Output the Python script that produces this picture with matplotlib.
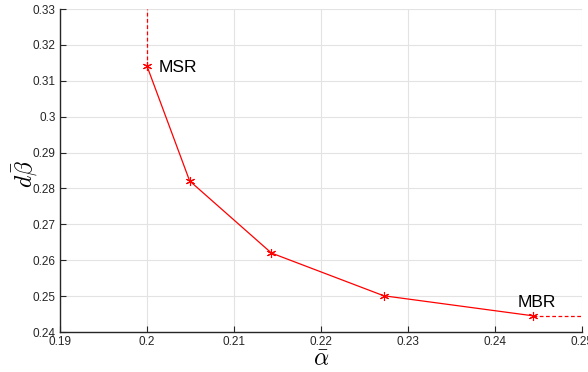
import numpy as np
import matplotlib.pyplot as plt

plt.rcParams["font.family"] = ["Liberation Sans", "DejaVu Sans"]
plt.rcParams["mathtext.fontset"] = "cm"

# trade-off curve points
alpha = [0.2, 0.2049, 0.2143, 0.2272, 0.2444]
dbeta = [0.3141, 0.2821, 0.2620, 0.2501, 0.2445]
xticks = [0.19, 0.2, 0.21, 0.22, 0.23, 0.24, 0.25]
yticks = [0.24, 0.25, 0.26, 0.27, 0.28, 0.29, 0.3, 0.31, 0.32, 0.33]

fig = plt.figure(figsize=(5.88, 3.72), dpi=100)
ax = fig.add_axes([0.102, 0.1075, 0.888, 0.8683])

star = (6, 2, 0)  # asterisk like matlab '*'
ax.plot(alpha, dbeta, color="red", lw=0.9, marker=star, ms=6.5, mew=0.8)
# dashed extensions towards the axis limits
ax.plot([alpha[0], alpha[0]], [dbeta[0], 0.33], color="red", ls=(0, (3, 2)), lw=0.9)
ax.plot([alpha[-1], 0.25], [dbeta[-1], dbeta[-1]], color="red", ls=(0, (3, 2)), lw=0.9)

ax.text(alpha[0] + 0.0013, dbeta[0] - 0.0003, "MSR", fontsize=12.5, va="center", ha="left")
ax.text(alpha[-1] + 0.0004, dbeta[-1] + 0.0015, "MBR", fontsize=12.5, va="bottom", ha="center")

ax.set_xlim(0.19, 0.25)
ax.set_ylim(0.24, 0.33)
ax.set_xticks(xticks)
ax.set_yticks(yticks)
ax.set_xticklabels([f"{v:g}" for v in xticks])
ax.set_yticklabels([f"{v:g}" for v in yticks])
ax.grid(True, color="#e3e3e3", lw=0.8)
ax.set_axisbelow(True)
ax.tick_params(direction="in", labelsize=8.5, length=4, colors="#262626", pad=3)
for s in ["top", "right"]:
    ax.spines[s].set_visible(False)
for s in ["left", "bottom"]:
    ax.spines[s].set_color("#262626")
    ax.spines[s].set_linewidth(1.0)

ax.set_xlabel(r"$\bar{\alpha}$", fontsize=17)
ax.set_ylabel(r"$d\bar{\beta}$", fontsize=17)
ax.xaxis.set_label_coords(0.5, -0.087)
ax.yaxis.set_label_coords(-0.067, 0.49)
ax.xaxis.label.set_va("center")
ax.yaxis.label.set_va("center")

fig.savefig("out.png", dpi=100)
